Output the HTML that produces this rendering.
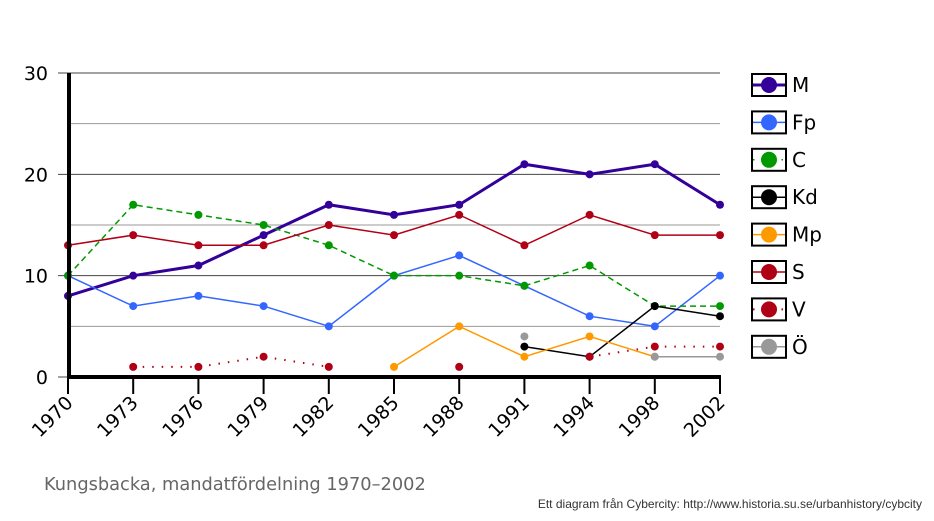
<!DOCTYPE html><html><head><meta charset="utf-8"><style>body{margin:0;background:#fff}svg{display:block}</style></head><body>
<svg id="s" width="934" height="521" xmlns="http://www.w3.org/2000/svg" font-family="DejaVu Sans, sans-serif"></svg>
<script>
const s=document.getElementById('s');let h='';
const X=i=>68+i*65.2, Y=v=>377-v*10.133;
[5,15,25].forEach(v=>h+=`<line x1="68" x2="720" y1="${Y(v)}" y2="${Y(v)}" stroke="#999" stroke-width="1"/>`);
[10,20,30].forEach(v=>h+=`<line x1="58" x2="720" y1="${Y(v)}" y2="${Y(v)}" stroke="#444" stroke-width="1"/>`);
h+=`<line x1="58" x2="68" y1="377" y2="377" stroke="#444"/>`;
[0,10,20,30].forEach(v=>h+=`<text x="48" y="${Y(v)+7}" font-size="19" text-anchor="end">${v}</text>`);
const yrs=[1970,1973,1976,1979,1982,1985,1988,1991,1994,1998,2002];
yrs.forEach((y,i)=>{h+=`<line x1="${X(i)}" x2="${X(i)}" y1="377" y2="394" stroke="#000" stroke-width="2"/>`;
h+=`<text font-size="19" text-anchor="end" transform="translate(${X(i)+6},${404}) rotate(-45)">${y}</text>`;});
const N=null;
const S=[
['M','#330099',3,'',[8,10,11,14,17,16,17,21,20,21,17]],
['Fp','#3366ff',1.5,'',[10,7,8,7,5,10,12,9,6,5,10]],
['C','#009900',1.5,'6,4',[10,17,16,15,13,10,10,9,11,7,7]],
['Kd','#000',1.5,'',[N,N,N,N,N,N,N,3,2,7,6]],
['Mp','#ff9900',1.5,'',[N,N,N,N,N,1,5,2,4,2,N]],
['S','#b00015',1.5,'',[13,14,13,13,15,14,16,13,16,14,14]],
['V','#b00015',2,'1.5,8',[N,1,1,2,1,N,1,N,2,3,3]],
['Ö','#999',1.5,'',[N,N,N,N,N,N,N,4,N,2,2]]];
let L='';
S.forEach(([n,c,w,d,v],k)=>{
 let seg=[];const flush=()=>{if(seg.length>1)h+=`<polyline points="${seg.join(' ')}" fill="none" stroke="${c}" stroke-width="${w}" ${d?`stroke-dasharray="${d}"`:''}/>`;seg=[]};
 v.forEach((a,i)=>{if(a===N)flush();else seg.push(X(i)+','+Y(a));});flush();
 v.forEach((a,i)=>{if(a!==N)h+=`<circle cx="${X(i)}" cy="${Y(a)}" r="4" fill="${c}"/>`;});
 const cy=85+k*37.4;
 L+=`<rect x="752" y="${cy-11}" width="34" height="22" fill="#fff" stroke="#000" stroke-width="2"/><line x1="753" x2="785" y1="${cy}" y2="${cy}" stroke="${c}" stroke-width="${w}" ${d?'stroke-dasharray="1.5,8"':''}/><circle cx="769" cy="${cy}" r="8" fill="${c}"/><text x="792" y="${cy+7}" font-size="20">${n}</text>`;
});
h+=`<line x1="69" x2="69" y1="73" y2="379" stroke="#000" stroke-width="4"/><line x1="67" x2="721" y1="377" y2="377" stroke="#000" stroke-width="4"/>`;
h+=L;
h+=`<text x="44" y="490" font-size="17.8" fill="#666">Kungsbacka, mandatfördelning 1970–2002</text>`;
h+=`<text x="922" y="508" font-size="12" fill="#333" text-anchor="end" font-family="Liberation Sans, sans-serif">Ett diagram från Cybercity: http://www.historia.su.se/urbanhistory/cybcity</text>`;
s.innerHTML=h;
</script></body></html>
